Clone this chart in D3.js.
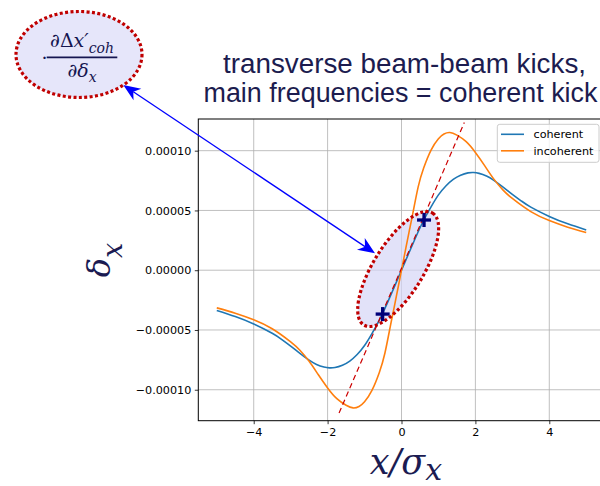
<!DOCTYPE html>
<html>
<head>
<meta charset="utf-8">
<script src="https://cdn.jsdelivr.net/npm/d3@7"></script>
<style>
  html, body { margin: 0; padding: 0; background: #fff; }
  svg { display: block; }
</style>
</head>
<body>
<svg id="chart" width="600" height="486"></svg>
<script>
// ---- data: transverse beam-beam kick vs. offset x/sigma_x ----
const xCoherent = [-5.0, -4.5, -4.0, -3.5, -3.25, -3.0, -2.75, -2.5, -2.3, -2.1, -1.95, -1.8, -1.6, -1.4, -1.2, -1.0, -0.8, -0.6, -0.4, -0.2,
                    0, 0.2, 0.4, 0.6, 0.8, 1.0, 1.2, 1.4, 1.6, 1.8, 1.95, 2.1, 2.3, 2.5, 2.75, 3.0, 3.25, 3.5, 4.0, 4.5, 5.0];
const yCoherent = [-3.37e-5, -3.88e-5, -4.5e-5, -5.28e-5, -5.78e-5, -6.35e-5, -6.95e-5, -7.52e-5, -7.88e-5, -8.1e-5, -8.17e-5, -8.14e-5, -7.95e-5, -7.6e-5, -7.05e-5, -6.3e-5, -5.3e-5, -4.18e-5, -2.86e-5, -1.44e-5,
                    0, 1.44e-5, 2.86e-5, 4.18e-5, 5.3e-5, 6.3e-5, 7.05e-5, 7.6e-5, 7.95e-5, 8.14e-5, 8.17e-5, 8.1e-5, 7.88e-5, 7.52e-5, 6.95e-5, 6.35e-5, 5.78e-5, 5.28e-5, 4.5e-5, 3.88e-5, 3.37e-5];

const xIncoherent = [-5.0, -4.5, -4.0, -3.5, -3.0, -2.75, -2.5, -2.25, -2.0, -1.75, -1.5, -1.31, -1.15, -1.0, -0.8, -0.6, -0.45, -0.3, -0.2, -0.1,
                      0, 0.1, 0.2, 0.3, 0.45, 0.6, 0.8, 1.0, 1.15, 1.31, 1.5, 1.75, 2.0, 2.25, 2.5, 2.75, 3.0, 3.5, 4.0, 4.5, 5.0];
const yIncoherent = [-3.15e-5, -3.6e-5, -4.15e-5, -4.9e-5, -6.0e-5, -6.7e-5, -7.62e-5, -8.75e-5, -9.85e-5, -10.75e-5, -11.3e-5, -11.52e-5, -11.4e-5, -11.0e-5, -10.05e-5, -8.55e-5, -6.95e-5, -4.65e-5, -3.13e-5, -1.57e-5,
                      0, 1.57e-5, 3.13e-5, 4.65e-5, 6.95e-5, 8.55e-5, 10.05e-5, 11.0e-5, 11.4e-5, 11.52e-5, 11.3e-5, 10.75e-5, 9.85e-5, 8.75e-5, 7.62e-5, 6.7e-5, 6.0e-5, 4.9e-5, 4.15e-5, 3.6e-5, 3.15e-5];

// tangent of the coherent kick at the origin (end points)
const xTangent = [-1.69, 1.70];
const yTangent = [-1.195e-4, 1.235e-4];

// marked points on the coherent curve
const xMarks = [-0.51, 0.61];
const yMarks = [-3.67e-5, 4.2e-5];

// axes
const xDomain = [-5.5, 5.5];
const yDomain = [-1.259e-4, 1.265e-4];
const xTickValues = [-4, -2, 0, 2, 4];
const xTickLabels = ["\u22124", "\u22122", "0", "2", "4"];
const yTickValues = [-1e-4, -5e-5, 0, 5e-5, 1e-4];
const yTickLabels = ["\u22120.00010", "\u22120.00005", "0.00000", "0.00005", "0.00010"];

const seriesNames = ["coherent", "incoherent"];
const seriesColors = ["#1f77b4", "#ff7f0e"];

// ---- layout ----
const svg = d3.select("#chart");
const plot = { left: 198.3, right: 604.7, top: 119, bottom: 420.7 };
const x = d3.scaleLinear().domain(xDomain).range([plot.left, plot.right]);
const y = d3.scaleLinear().domain(yDomain).range([plot.bottom, plot.top]);

const navy = "#1b1b52";
const red = "#c00000";
const tickFont = "'DejaVu Sans', sans-serif";
const mathFont = "'DejaVu Serif', serif";

svg.append("defs").append("clipPath").attr("id", "plotclip")
  .append("rect").attr("x", plot.left).attr("y", plot.top)
  .attr("width", plot.right - plot.left).attr("height", plot.bottom - plot.top);

// grid
const grid = svg.append("g").attr("stroke", "#b0b0b0").attr("stroke-width", 0.8);
grid.selectAll(".gx").data(xTickValues).join("line")
  .attr("x1", d => x(d)).attr("x2", d => x(d)).attr("y1", plot.top).attr("y2", plot.bottom);
grid.selectAll(".gy").data(yTickValues).join("line")
  .attr("x1", plot.left).attr("x2", plot.right).attr("y1", d => y(d)).attr("y2", d => y(d));

// highlighted region around the origin
const ell = { cx: x(-0.09), cy: y(0.1e-5), rx: 65.7, ry: 25, angle: -58.4 };
svg.append("ellipse")
  .attr("transform", `translate(${ell.cx},${ell.cy}) rotate(${ell.angle})`)
  .attr("rx", ell.rx).attr("ry", ell.ry)
  .attr("fill", "#d6d6f6").attr("fill-opacity", 0.7);

// curves
const curves = svg.append("g").attr("clip-path", "url(#plotclip)");
const line = d3.line().x(d => x(d[0])).y(d => y(d[1])).curve(d3.curveNatural);
const series = [d3.zip(xCoherent, yCoherent), d3.zip(xIncoherent, yIncoherent)];
series.forEach((pts, i) => {
  curves.append("path").attr("d", line(pts)).attr("fill", "none")
    .attr("stroke", seriesColors[i]).attr("stroke-width", 1.6);
});

// tangent line
curves.append("path")
  .attr("d", d3.line().x(d => x(d[0])).y(d => y(d[1]))(d3.zip(xTangent, yTangent)))
  .attr("fill", "none").attr("stroke", "#cc0000").attr("stroke-width", 1.2)
  .attr("stroke-dasharray", "5.5 3.5");

// dotted outline of the region
svg.append("ellipse")
  .attr("transform", `translate(${ell.cx},${ell.cy}) rotate(${ell.angle})`)
  .attr("rx", ell.rx).attr("ry", ell.ry)
  .attr("fill", "none").attr("stroke", red).attr("stroke-width", 3.2)
  .attr("stroke-dasharray", "3 2.4");

// plus markers
const marks = svg.append("g").attr("stroke", "#00007a").attr("stroke-width", 3.3);
d3.zip(xMarks, yMarks).forEach(([mx, my]) => {
  const cx = x(mx), cy = y(my), h = 7;
  marks.append("line").attr("x1", cx - h).attr("x2", cx + h).attr("y1", cy).attr("y2", cy);
  marks.append("line").attr("x1", cx).attr("x2", cx).attr("y1", cy - h).attr("y2", cy + h);
});

// axes
const xAxis = d3.axisBottom(x).tickValues(xTickValues).tickFormat((d, i) => xTickLabels[i])
  .tickSize(3.5).tickPadding(3.5);
const yAxis = d3.axisLeft(y).tickValues(yTickValues).tickFormat((d, i) => yTickLabels[i])
  .tickSize(3.5).tickPadding(3.5);
const gx = svg.append("g").attr("transform", `translate(0,${plot.bottom})`).call(xAxis);
const gy = svg.append("g").attr("transform", `translate(${plot.left},0)`).call(yAxis);
[gx, gy].forEach(g => {
  g.select(".domain").remove();
  g.selectAll(".tick line").attr("stroke", "#000").attr("stroke-width", 0.8);
  g.selectAll(".tick text").attr("fill", "#000").style("font-family", tickFont).style("font-size", "11.2px");
});
gx.selectAll(".tick text").attr("dy", "0.78em");
svg.append("rect").attr("x", plot.left).attr("y", plot.top)
  .attr("width", plot.right - plot.left).attr("height", plot.bottom - plot.top)
  .attr("fill", "none").attr("stroke", "#000").attr("stroke-width", 1);

// legend
const lg = svg.append("g");
lg.append("rect").attr("x", 497.3).attr("y", 124.3).attr("width", 101.7).attr("height", 38)
  .attr("rx", 2.5).attr("fill", "#fff").attr("fill-opacity", 0.8)
  .attr("stroke", "#cccccc").attr("stroke-width", 1);
seriesNames.forEach((name, i) => {
  const ly = 134.3 + i * 16.5;
  lg.append("line").attr("x1", 501).attr("x2", 524).attr("y1", ly).attr("y2", ly)
    .attr("stroke", seriesColors[i]).attr("stroke-width", 1.6);
  lg.append("text").attr("x", 533.5).attr("y", ly + 4).text(name)
    .attr("fill", "#000").style("font-family", tickFont).style("font-size", "11.2px");
});

// double-headed arrow between the formula and the region
const p0 = [123.3, 85], p1 = [375, 253.3];
function arrowHead(tip, from) {
  const dx = tip[0] - from[0], dy = tip[1] - from[1], len = Math.hypot(dx, dy);
  const u = [dx / len, dy / len], n = [-u[1], u[0]];
  const L = 17, W = 7, N = 12;
  const back = [tip[0] - L * u[0], tip[1] - L * u[1]];
  const notch = [tip[0] - N * u[0], tip[1] - N * u[1]];
  return { d: `M${tip}L${back[0] + W * n[0]},${back[1] + W * n[1]}L${notch}L${back[0] - W * n[0]},${back[1] - W * n[1]}Z`, notch };
}
const hA = arrowHead(p0, p1), hB = arrowHead(p1, p0);
svg.append("line").attr("x1", hA.notch[0]).attr("y1", hA.notch[1]).attr("x2", hB.notch[0]).attr("y2", hB.notch[1])
  .attr("stroke", "#0000ff").attr("stroke-width", 1.3);
svg.append("path").attr("d", hA.d).attr("fill", "#0000ff");
svg.append("path").attr("d", hB.d).attr("fill", "#0000ff");

// formula bubble
svg.append("ellipse").attr("cx", 79).attr("cy", 54.5).attr("rx", 63).attr("ry", 43)
  .attr("fill", "#e6e6fa").attr("stroke", red).attr("stroke-width", 3.2)
  .attr("stroke-dasharray", "3 2.4");
const fm = svg.append("g").attr("fill", "#151550").style("font-family", mathFont);
fm.append("text").attr("x", 41.5).attr("y", 63.5).style("font-size", "19px").text("\u00b7");
const num = fm.append("text").attr("x", 82).attr("y", 46.5).attr("text-anchor", "middle").style("font-size", "19px");
num.append("tspan").text("\u2202\u0394");
num.append("tspan").style("font-style", "italic").text("x\u2032");
num.append("tspan").attr("dy", 6).style("font-style", "italic").style("font-size", "14px").text("coh");
fm.append("line").attr("x1", 46.7).attr("x2", 117.3).attr("y1", 57.3).attr("y2", 57.3)
  .attr("stroke", "#151550").attr("stroke-width", 1.8);
const den = fm.append("text").attr("x", 82).attr("y", 76.5).attr("text-anchor", "middle").style("font-size", "19px");
den.append("tspan").text("\u2202");
den.append("tspan").style("font-style", "italic").text("\u03b4");
den.append("tspan").attr("dy", 5).style("font-style", "italic").style("font-size", "14px").text("x");

// title
const title = svg.append("g").attr("fill", "#1c1c4f")
  .style("font-family", "'Liberation Sans', Arial, sans-serif").style("font-size", "27px");
title.append("text").attr("x", 223).attr("y", 73)
  .attr("textLength", 363).attr("lengthAdjust", "spacingAndGlyphs").text("transverse beam-beam kicks,");
title.append("text").attr("x", 203.5).attr("y", 101.7)
  .attr("textLength", 394).attr("lengthAdjust", "spacingAndGlyphs").text("main frequencies = coherent kick");

// axis labels
const xl = svg.append("text").attr("x", 406).attr("y", 474).attr("text-anchor", "middle")
  .attr("fill", navy).style("font-family", mathFont).style("font-style", "italic").style("font-size", "35px");
xl.append("tspan").text("x/\u03c3");
xl.append("tspan").attr("dy", 6).style("font-size", "30px").text("x");

const yl = svg.append("text").attr("transform", "translate(110,260) rotate(-90)").attr("text-anchor", "middle")
  .attr("fill", navy).style("font-family", mathFont).style("font-style", "italic").style("font-size", "32px");
yl.append("tspan").text("\u03b4");
yl.append("tspan").attr("dy", 12).style("font-size", "27px").text("x");
</script>
</body>
</html>
